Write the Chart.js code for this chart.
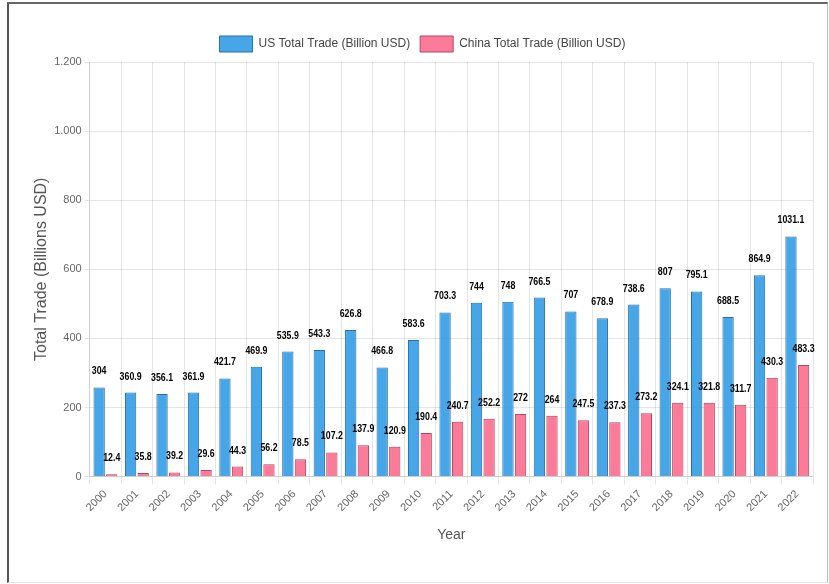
<!DOCTYPE html>
<html>
<head>
  <title>US vs China Total Trade</title>
  <script src="https://cdn.jsdelivr.net/npm/chart.js@4.4.0/dist/chart.umd.min.js"></script>
  <style>
    body { margin: 0; background: #fff; }
    #frame {
      position: absolute; left: 7px; top: 2px; width: 818px; height: 578px;
      border-left: 2px solid #555; border-top: 2px solid #666;
      border-right: 1px solid #bbb; border-bottom: 1px solid #e4e4e4;
      pointer-events: none;
    }
    #chart { position: absolute; left: 0; top: 0; }
  </style>
</head>
<body>
  <canvas id="chart" width="829" height="584"></canvas>
  <div id="frame"></div>

  <script>
    // Data
    const years = ['2000', '2001', '2002', '2003', '2004', '2005', '2006', '2007', '2008', '2009', '2010', '2011',
                   '2012', '2013', '2014', '2015', '2016', '2017', '2018', '2019', '2020', '2021', '2022'];

    // bar heights as drawn
    const usTrade = [258, 243, 239, 243, 284, 318, 362, 366, 424, 316, 395, 475,
                     503, 506, 518, 478, 458, 498, 545, 536, 462, 583, 695];
    const chinaTrade = [7, 10, 12, 19, 29, 36, 50, 70, 91, 86, 126, 159,
                        167, 181, 176, 163, 157, 183, 214, 214, 208, 286, 323];

    // value labels printed above the bars
    const usLabels = ['304', '360.9', '356.1', '361.9', '421.7', '469.9', '535.9', '543.3', '626.8', '466.8', '583.6', '703.3',
                      '744', '748', '766.5', '707', '678.9', '738.6', '807', '795.1', '688.5', '864.9', '1031.1'];
    const chinaLabels = ['12.4', '35.8', '39.2', '29.6', '44.3', '56.2', '78.5', '107.2', '137.9', '120.9', '190.4', '240.7',
                         '252.2', '272', '264', '247.5', '237.3', '273.2', '324.1', '321.8', '311.7', '430.3', '483.3'];

    const yTicks = [0, 200, 400, 600, 800, 1000, 1200];

    const fontFamily = '"Liberation Sans", Arial, sans-serif';

    // draws the value text over each bar (narrow bold look)
    const valueLabels = {
      id: 'valueLabels',
      afterDatasetsDraw(chart) {
        const ctx = chart.ctx;
        const lists = [usLabels, chinaLabels];
        ctx.save();
        ctx.font = 'bold 11px "Liberation Sans", Arial, sans-serif';
        ctx.fillStyle = '#000';
        ctx.textAlign = 'center';
        ctx.textBaseline = 'middle';
        chart.data.datasets.forEach((ds, i) => {
          chart.getDatasetMeta(i).data.forEach((bar, j) => {
            ctx.save();
            ctx.translate(bar.x, bar.y - 16);
            ctx.scale(0.8, 1);
            ctx.fillText(lists[i][j], 0, 0);
            ctx.restore();
          });
        });
        ctx.restore();
      }
    };

    new Chart(document.getElementById('chart'), {
      type: 'bar',
      data: {
        labels: years,
        datasets: [{
          label: 'US Total Trade (Billion USD)',
          data: usTrade,
          backgroundColor: 'rgba(54, 158, 230, 0.92)',
          borderColor: 'rgb(36, 112, 172)',
          borderWidth: 1
        }, {
          label: 'China Total Trade (Billion USD)',
          data: chinaTrade,
          backgroundColor: 'rgba(250, 100, 135, 0.85)',
          borderColor: 'rgb(180, 70, 100)',
          borderWidth: 1
        }]
      },
      options: {
        responsive: false,
        animation: false,
        layout: { padding: { left: 32, right: 16, top: 26, bottom: 36 } },
        plugins: {
          legend: {
            labels: {
              boxWidth: 33,
              boxHeight: 16,
              color: '#444',
              font: { family: fontFamily, size: 12 }
            }
          },
          tooltip: { enabled: false }
        },
        scales: {
          x: {
            ticks: {
              minRotation: 45,
              maxRotation: 45,
              color: '#666',
              font: { family: fontFamily, size: 11 }
            },
            title: {
              display: true,
              text: 'Year',
              color: '#555',
              padding: { top: 10, bottom: 4 },
              font: { family: fontFamily, size: 14 }
            }
          },
          y: {
            min: 0,
            max: yTicks[yTicks.length - 1],
            afterBuildTicks: (axis) => { axis.ticks = yTicks.map(v => ({ value: v })); },
            grid: { tickLength: 5 },
            ticks: {
              color: '#666',
              font: { family: fontFamily, size: 11 },
              callback: (v) => v.toLocaleString('de-DE')
            },
            title: {
              display: true,
              text: 'Total Trade (Billions USD)',
              color: '#555',
              padding: 0,
              font: { family: fontFamily, size: 16 }
            }
          }
        }
      },
      plugins: [valueLabels]
    });
  </script>
</body>
</html>
